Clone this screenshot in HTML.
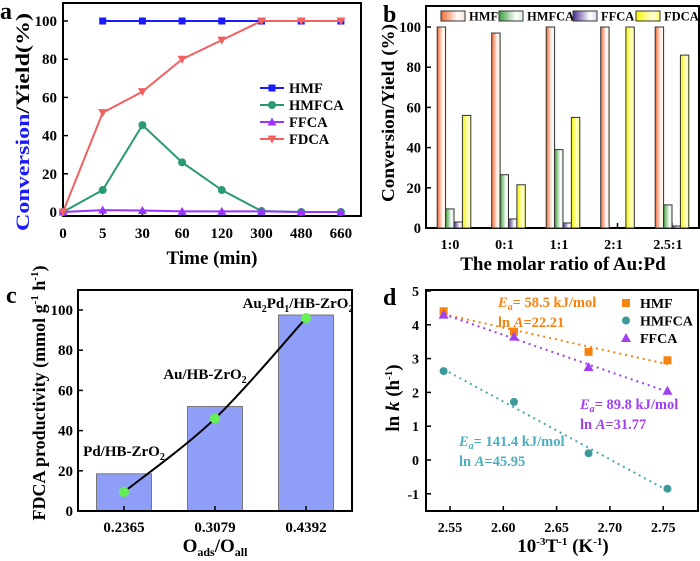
<!DOCTYPE html>
<html><head><meta charset="utf-8">
<style>
html,body{margin:0;padding:0;background:#fff;}
svg{display:block;font-family:"Liberation Serif",serif;font-weight:bold;}
</style></head>
<body>
<svg id="fig" width="700" height="561" viewBox="0 0 700 561" xmlns="http://www.w3.org/2000/svg">
<defs>
<linearGradient id="gO" x1="0" x2="1"><stop offset="0" stop-color="#f26a35"/><stop offset="0.7" stop-color="#fff"/><stop offset="1" stop-color="#fde0d0"/></linearGradient>
<linearGradient id="gG" x1="0" x2="1"><stop offset="0" stop-color="#3c9e3c"/><stop offset="0.7" stop-color="#fff"/><stop offset="1" stop-color="#d8eed8"/></linearGradient>
<linearGradient id="gP" x1="0" x2="1"><stop offset="0" stop-color="#4b2f8f"/><stop offset="0.7" stop-color="#fff"/><stop offset="1" stop-color="#ddd8ee"/></linearGradient>
<linearGradient id="gY" x1="0" x2="1"><stop offset="0" stop-color="#f5f500"/><stop offset="0.7" stop-color="#ffffd8"/><stop offset="1" stop-color="#ffff60"/></linearGradient>
</defs>
<g id="pa"></g>
<g id="pb"></g>
<g id="pc"></g>
<g id="pd"></g>
</svg>
<script>
// ---------- Panel a data ----------
const aCats = ["0","5","30","60","120","300","480","660"];
const aHMF = [null,100,100,100,100,100,100,100];
const aHMFCA = [0,11.5,45.5,26,11.5,0.5,0,0];
const aFFCA = [0,1,0.8,0.3,0.3,0.3,0,0];
const aFDCA = [0,52,63,80,90,100,100,100];
const aYTicks = [0,20,40,60,80,100];
// ---------- Panel b data ----------
const bCats = ["1:0","0:1","1:1","2:1","2.5:1"];
const bHMF = [100,97,100,100,100];
const bHMFCA = [9.5,26.5,39,0,11.5];
const bFFCA = [3,4.5,2.5,0,1];
const bFDCA = [56,21.5,55,100,86];
const bYTicks = [0,20,40,60,80,100];
// ---------- Panel c data ----------
const cCats = ["0.2365","0.3079","0.4392"];
const cBars = [18.5,52,97.5];
const cPoints = [9.5,46,96];
const cYTicks = [0,20,40,60,80,100];
// ---------- Panel d data ----------
const dX = [2.544,2.610,2.680,2.754];
const dHMF = [4.4,3.8,3.2,2.95];
const dHMFCA = [2.63,1.72,0.2,-0.85];
const dFFCA = [4.3,3.65,2.75,2.05];
const dXTicks = [2.55,2.60,2.65,2.70,2.75];
const dYTicks = [-1,0,1,2,3,4,5];

const NS="http://www.w3.org/2000/svg";
function mk(parent,tag,attrs,text){const e=document.createElementNS(NS,tag);for(const k in attrs)e.setAttribute(k,attrs[k]);if(text!==undefined)e.textContent=text;parent.appendChild(e);return e;}

// ================= Panel a =================
(function(){
const g=document.getElementById('pa');
const L=63,R=361,T=3,B=216;
const xA=i=>63+i*39.7;
const yA=v=>212-v*1.91;
let e=mk(g,'rect',{x:L,y:T,width:R-L,height:B-T,fill:'none',stroke:'#000','stroke-width':2});

aYTicks.forEach(v=>{let t=mk(g,'line',{x1:L,x2:L+5,y1:yA(v),y2:yA(v),stroke:'#000','stroke-width':1.5});
 t=mk(g,'text',{x:L-6,y:yA(v)+5,'text-anchor':'end','font-size':15},v);
 });
aCats.forEach((c,i)=>{mk(g,'line',{x1:xA(i),x2:xA(i),y1:B,y2:B-5,stroke:'#000','stroke-width':1.5});
 let t=mk(g,'text',{x:xA(i),y:238,'text-anchor':'middle','font-size':15},c);
 });
const series=[[aHMF,'#1a1aff','sq','hmf'],[aHMFCA,'#2a9a70','ci','hmfca'],[aFFCA,'#9933ff','tu','ffca'],[aFDCA,'#f26060','td','fdca']];
function marker(p,x,y,type,col){
 if(type==='sq')return mk(p,'rect',{x:x-3.5,y:y-3.5,width:7,height:7,fill:col});
 if(type==='ci')return mk(p,'circle',{cx:x,cy:y,r:4,fill:col});
 if(type==='tu')return mk(p,'polygon',{points:`${x},${y-4.5} ${x-4.5},${y+3.5} ${x+4.5},${y+3.5}`,fill:col});
 return mk(p,'polygon',{points:`${x},${y+4.5} ${x-4.5},${y-3.5} ${x+4.5},${y-3.5}`,fill:col});
}
series.forEach(([d,col,m,n])=>{
 const pts=[];d.forEach((v,i)=>{if(v!==null)pts.push([xA(i),yA(v)]);});
 let l=mk(g,'polyline',{points:pts.map(p=>p.join(',')).join(' '),fill:'none',stroke:col,'stroke-width':2});
 
 pts.forEach(p=>{let mm=marker(g,p[0],p[1],m,col);});
});
const leg=[['HMF','#1a1aff','sq'],['HMFCA','#2a9a70','ci'],['FFCA','#9933ff','tu'],['FDCA','#f26060','td']];
leg.forEach((l,i)=>{const y=88+i*17;
 mk(g,'line',{x1:260,x2:284,y1:y,y2:y,stroke:l[1],'stroke-width':2});marker(g,272,y,l[2],l[1]);
 let t=mk(g,'text',{x:289,y:y+5,'font-size':14.5},l[0]);});
let t=mk(g,'text',{x:212,y:264,'text-anchor':'middle','font-size':19},'Time (min)');

t=mk(g,'text',{transform:'translate(29,122) rotate(-90)','text-anchor':'middle','font-size':19,textLength:218,lengthAdjust:'spacingAndGlyphs'});

mk(t,'tspan',{fill:'#1a1aff'},'Conversion');mk(t,'tspan',{fill:'#000'},'/Yield(%)');
t=mk(g,'text',{x:0,y:19,'font-size':24},'a');
})();

// ================= Panel b =================
(function(){
const g=document.getElementById('pb');
const L=426,R=699,T=6,B=228;
const xC=i=>454+i*54.5;
const yB=v=>228-v*2.01;
let e=mk(g,'rect',{x:L,y:T,width:R-L,height:B-T,fill:'none',stroke:'#000','stroke-width':2});

bYTicks.forEach(v=>{mk(g,'line',{x1:L,x2:L+5,y1:yB(v),y2:yB(v),stroke:'#000','stroke-width':1.5});
 let t=mk(g,'text',{x:L-5,y:yB(v)+5,'text-anchor':'end','font-size':14.5},v);
 });
const ser=[[bHMF,'url(#gO)','hmf'],[bHMFCA,'url(#gG)','hmfca'],[bFFCA,'url(#gP)','ffca'],[bFDCA,'url(#gY)','fdca']];
const bw=8.4;
bCats.forEach((c,i)=>{
 mk(g,'line',{x1:xC(i),x2:xC(i),y1:B,y2:B-5,stroke:'#000','stroke-width':1.5});
 let t=mk(g,'text',{x:xC(i)-4,y:249,'text-anchor':'middle','font-size':14},c);
 
 ser.forEach((s,j)=>{const v=s[0][i];if(v<=0)return;
  const x=xC(i)-2*bw+j*bw;
  let r=mk(g,'rect',{x:x,y:yB(v),width:bw,height:B-yB(v),fill:s[1],stroke:'#333','stroke-width':1});
  });
});
const leg=[['HMF','url(#gO)',441],['HMFCA','url(#gG)',499],['FFCA','url(#gP)',573],['FDCA','url(#gY)',636]];
leg.forEach(l=>{mk(g,'rect',{x:l[2],y:11,width:24,height:10,fill:l[1],stroke:'#333','stroke-width':1});
 let t=mk(g,'text',{x:l[2]+28,y:20.5,'font-size':12.5},l[0]);});
let t=mk(g,'text',{x:563,y:270,'text-anchor':'middle','font-size':19},'The molar ratio of Au:Pd');

t=mk(g,'text',{transform:'translate(394,113) rotate(-90)','text-anchor':'middle','font-size':18,textLength:178,lengthAdjust:'spacingAndGlyphs'},'Conversion/Yield (%)');

t=mk(g,'text',{x:383,y:22,'font-size':24},'b');
})();

// ================= Panel c =================
(function(){
const g=document.getElementById('pc');
const L=78,R=352,T=290,B=511;
const xC=i=>124+i*91;
const yC=v=>511-v*2.01;
cCats.forEach((c,i)=>{let r=mk(g,'rect',{x:xC(i)-27.5,y:yC(cBars[i]),width:55,height:B-yC(cBars[i]),fill:'#8f9ef7',stroke:'#777','stroke-width':1});
 });
let e=mk(g,'rect',{x:L,y:T,width:R-L,height:B-T,fill:'none',stroke:'#000','stroke-width':2});

cYTicks.forEach(v=>{mk(g,'line',{x1:L,x2:L+5,y1:yC(v),y2:yC(v),stroke:'#000','stroke-width':1.5});
 let t=mk(g,'text',{x:L-5,y:yC(v)+5,'text-anchor':'end','font-size':15},v);
 });
cCats.forEach((c,i)=>{mk(g,'line',{x1:xC(i),x2:xC(i),y1:B,y2:B-5,stroke:'#000','stroke-width':1.5});
 let t=mk(g,'text',{x:xC(i),y:532,'text-anchor':'middle','font-size':15},c);
 });
const P=cPoints.map((v,i)=>[xC(i),yC(v)]);
let d=`M${P[0][0]},${P[0][1]}`;
for(let i=0;i<P.length-1;i++){const p0=P[Math.max(0,i-1)],p1=P[i],p2=P[i+1],p3=P[Math.min(P.length-1,i+2)];
 const c1=[p1[0]+(p2[0]-p0[0])/6,p1[1]+(p2[1]-p0[1])/6],c2=[p2[0]-(p3[0]-p1[0])/6,p2[1]-(p3[1]-p1[1])/6];
 d+=` C${c1[0]},${c1[1]} ${c2[0]},${c2[1]} ${p2[0]},${p2[1]}`;}
let l=mk(g,'path',{d:d,fill:'none',stroke:'#000','stroke-width':2});

P.forEach(p=>{let c=mk(g,'circle',{cx:p[0],cy:p[1],r:5,fill:'#66ee55'});});
const labs=[[124,456,'Pd/HB-ZrO','2'],[205,379,'Au/HB-ZrO','2']];
labs.forEach(a=>{let t=mk(g,'text',{x:a[0],y:a[1],'text-anchor':'middle','font-size':15});
 
 mk(t,'tspan',{},a[2]);mk(t,'tspan',{'font-size':10,dy:4},a[3]);});
let t=mk(g,'text',{x:298,y:308,'text-anchor':'middle','font-size':15});

mk(t,'tspan',{},'Au');mk(t,'tspan',{'font-size':10,dy:4},'2');mk(t,'tspan',{dy:-4},'Pd');mk(t,'tspan',{'font-size':10,dy:4},'1');mk(t,'tspan',{dy:-4},'/HB-ZrO');mk(t,'tspan',{'font-size':10,dy:4},'2');
t=mk(g,'text',{x:215,y:552,'text-anchor':'middle','font-size':19});

mk(t,'tspan',{},'O');mk(t,'tspan',{'font-size':12,dy:4},'ads');mk(t,'tspan',{dy:-4},'/O');mk(t,'tspan',{'font-size':12,dy:4},'all');
t=mk(g,'text',{transform:'translate(45,393) rotate(-90)','text-anchor':'middle','font-size':18});

mk(t,'tspan',{},'FDCA productivity (mmol g');mk(t,'tspan',{'font-size':11,dy:-7},'-1');mk(t,'tspan',{dy:7},' h');mk(t,'tspan',{'font-size':11,dy:-7},'-1');mk(t,'tspan',{dy:7},')');
t=mk(g,'text',{x:6,y:303,'font-size':24},'c');
})();

// ================= Panel d =================
(function(){
const g=document.getElementById('pd');
const L=426,R=698,T=290,B=511;
const xD=v=>450+(v-2.55)*1066;
const yD=v=>460-v*33.8;
let e=mk(g,'rect',{x:L,y:T,width:R-L,height:B-T,fill:'none',stroke:'#000','stroke-width':2});

dYTicks.forEach(v=>{mk(g,'line',{x1:L,x2:L+5,y1:yD(v),y2:yD(v),stroke:'#000','stroke-width':1.5});
 let t=mk(g,'text',{x:L-7,y:yD(v)+5,'text-anchor':'end','font-size':14},v);
 });
dXTicks.forEach(v=>{mk(g,'line',{x1:xD(v),x2:xD(v),y1:B,y2:B-5,stroke:'#000','stroke-width':1.5});
 let t=mk(g,'text',{x:xD(v),y:532,'text-anchor':'middle','font-size':14},v.toFixed(2));
 });
function fit(ys){const n=dX.length,mx=dX.reduce((a,b)=>a+b)/n,my=ys.reduce((a,b)=>a+b)/n;
 let sxy=0,sxx=0;dX.forEach((x,i)=>{sxy+=(x-mx)*(ys[i]-my);sxx+=(x-mx)**2;});const b=sxy/sxx;return x=>my+b*(x-mx);}
function marker(x,y,type,col){
 if(type==='sq')return mk(g,'rect',{x:x-4,y:y-4,width:8,height:8,fill:col});
 if(type==='ci')return mk(g,'circle',{cx:x,cy:y,r:4,fill:col});
 return mk(g,'polygon',{points:`${x},${y-5} ${x-5},${y+4} ${x+5},${y+4}`,fill:col});}
const ser=[[dHMF,'#f7820f','#f7820f','sq','hmf'],[dHMFCA,'#3c9a9a','#4aa8b0','ci','hmfca'],[dFFCA,'#a040f0','#a040f0','tu','ffca']];
ser.forEach(s=>{const f=fit(s[0]);const x0=dX[0],x1=dX[dX.length-1];
 let l=mk(g,'line',{x1:xD(x0),y1:yD(f(x0)),x2:xD(x1),y2:yD(f(x1)),stroke:s[2],'stroke-width':2,'stroke-dasharray':'2,4'});
 
 s[0].forEach((v,i)=>{let m=marker(xD(dX[i]),yD(v),s[3],s[1]);});});
const leg=[['HMF','#f7820f','sq'],['HMFCA','#3c9a9a','ci'],['FFCA','#a040f0','tu']];
leg.forEach((l,i)=>{const y=303+i*17.5;marker(626,y,l[2],l[1]);
 let t=mk(g,'text',{x:640,y:y+5,'font-size':14},l[0]);});
const ann=[[498,307,'#f7820f','58.5','22.21'],[580,409,'#a040f0','89.8','31.77'],[459,446,'#4ab0c0','141.4','45.95']];
ann.forEach(a=>{let t=mk(g,'text',{x:a[0],y:a[1],'font-size':14.5,fill:a[2]});
 
 mk(t,'tspan',{'font-style':'italic'},'E');mk(t,'tspan',{'font-size':10,dy:3,'font-style':'italic'},'a');mk(t,'tspan',{dy:-3},'= '+a[3]+' kJ/mol');
 t=mk(g,'text',{x:a[0],y:a[1]+20,'font-size':14.5,fill:a[2]});
 
 mk(t,'tspan',{},'ln ');mk(t,'tspan',{'font-style':'italic'},'A');mk(t,'tspan',{},'='+a[4]);});
let t=mk(g,'text',{x:563,y:552,'text-anchor':'middle','font-size':19});

mk(t,'tspan',{},'10');mk(t,'tspan',{'font-size':11,dy:-7},'-3');mk(t,'tspan',{dy:7},'T');mk(t,'tspan',{'font-size':11,dy:-7},'-1');mk(t,'tspan',{dy:7},' (K');mk(t,'tspan',{'font-size':11,dy:-7},'-1');mk(t,'tspan',{dy:7},')');
t=mk(g,'text',{transform:'translate(399,398) rotate(-90)','text-anchor':'middle','font-size':19});

mk(t,'tspan',{},'ln ');mk(t,'tspan',{'font-style':'italic'},'k');mk(t,'tspan',{},' (h');mk(t,'tspan',{'font-size':11,dy:-7},'-1');mk(t,'tspan',{dy:7},')');
t=mk(g,'text',{x:383,y:305,'font-size':24},'d');
})();
</script>
</body></html>
